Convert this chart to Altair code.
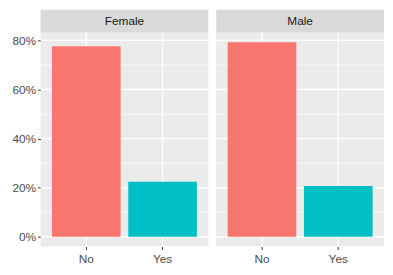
import altair as alt
import pandas as pd

sexes = ["Female", "Female", "Male", "Male"]
answers = ["No", "Yes", "No", "Yes"]
shares = [0.776, 0.224, 0.793, 0.207]
panels = ["Female", "Male"]
categories = ["No", "Yes"]
y_major = [0.0, 0.2, 0.4, 0.6, 0.8]
y_minor = [0.1, 0.3, 0.5, 0.7]
fill_colors = ["#F8766D", "#00BFC4"]

df = pd.DataFrame({"sex": sexes, "answer": answers, "share": shares})

Y_DOMAIN = [-0.0397, 0.8327]
W, H = 170, 217
FONT = "Liberation Sans"
FS = 12


def panel(name, first):
    d = df[df.sex == name]
    xscale = alt.Scale(domain=categories, paddingInner=0.1, paddingOuter=0.15)
    yscale = alt.Scale(domain=Y_DOMAIN, nice=False, zero=False)
    xaxis = alt.Axis(title=None, grid=False, domain=False, labelColor="#4D4D4D",
                     labelFontSize=FS, labelFont=FONT, tickColor="#333333",
                     tickSize=3, tickWidth=1, labelPadding=4, labelAngle=0)
    if first:
        yaxis = alt.Axis(title=None, grid=False, domain=False, values=y_major,
                         format=".0%", labelColor="#4D4D4D", labelFontSize=FS,
                         labelFont=FONT, tickColor="#333333", tickSize=3,
                         tickWidth=1, labelPadding=2)
    else:
        yaxis = None
    X = alt.X("answer:N", scale=xscale, axis=xaxis)
    Y = alt.Y("share:Q", scale=yscale, axis=yaxis)

    minor = alt.Chart(pd.DataFrame({"share": y_minor})).mark_rule(
        color="white", strokeWidth=0.7).encode(y=Y)
    major = alt.Chart(pd.DataFrame({"share": y_major})).mark_rule(
        color="white", strokeWidth=1.4).encode(y=Y)
    vert = alt.Chart(pd.DataFrame({"answer": categories})).mark_rule(
        color="white", strokeWidth=1.4).encode(x=X)
    bars = alt.Chart(d).mark_bar().encode(
        x=X, y=Y, y2=alt.datum(0),
        color=alt.Color("answer:N", scale=alt.Scale(domain=categories, range=fill_colors), legend=None),
    )
    strip_df = pd.DataFrame({"sex": [name]})
    strip = alt.Chart(strip_df).mark_rect(color="#D9D9D9").encode(
        x=alt.value(0), x2=alt.value(W), y=alt.value(-23), y2=alt.value(0))
    strip_text = alt.Chart(strip_df).mark_text(
        fontSize=FS, font=FONT, color="#1A1A1A", baseline="middle").encode(
        x=alt.value(W / 2), y=alt.value(-11.5), text="sex:N")
    return alt.layer(minor, major, vert, bars, strip, strip_text).properties(width=W, height=H)


chart = alt.hconcat(panel(panels[0], True), panel(panels[1], False), spacing=6).properties(
    padding={"left": 3, "top": 0, "right": 0, "bottom": 0},
    background="white",
).configure_view(fill="#EBEBEB", stroke=None)

chart.save("out.html", embed_options={"renderer": "svg", "actions": False})
